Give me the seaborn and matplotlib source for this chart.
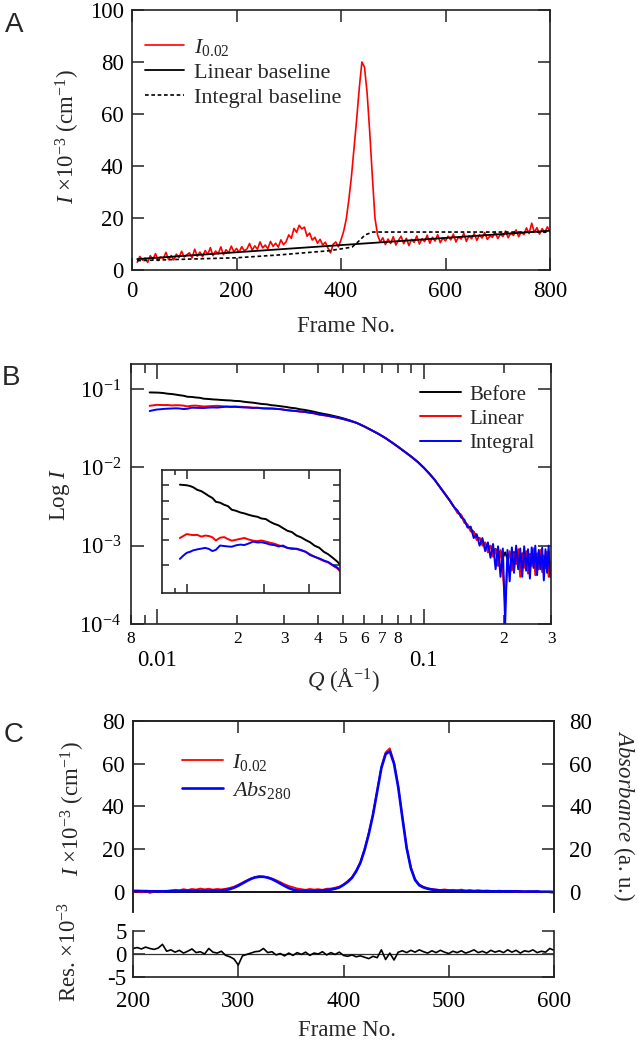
import numpy as np
import pandas as pd
import matplotlib
matplotlib.use("Agg")
import matplotlib.pyplot as plt
import matplotlib.ticker as mticker
import seaborn as sns

# ---------------- data: panel A (SEC-SAXS elution, raw) ----------------
frame_a = list(range(10, 801, 5))
i002_a = [3.0, 5.2, 3.8, 4.6, 2.9, 5.5, 4.1, 6.3, 3.6, 5.0,
          4.4, 6.8, 4.0, 5.6, 3.9, 6.1, 4.8, 7.2, 5.0, 5.9,
          6.6, 4.7, 8.0, 5.3, 6.9, 5.1, 7.5, 6.0, 8.6, 5.5,
          7.3, 6.2, 8.9, 5.9, 7.8, 6.6, 9.2, 7.0, 8.3, 6.8,
          9.0, 7.4, 8.1, 10.2, 7.6, 9.3, 8.0, 10.8, 8.5, 9.6,
          8.2, 11.0, 9.1, 10.3, 8.8, 11.6, 9.7, 10.9, 13.5, 12.2,
          16.0, 14.5, 17.2, 15.8, 16.5, 13.0, 14.2, 11.5, 12.6, 10.3,
          11.8, 9.6, 10.7, 8.4, 6.6, 9.9, 10.8, 8.9, 11.6, 14.8,
          19.5, 27.0, 36.0, 47.0, 58.0, 70.0, 80.0, 78.0, 68.0, 53.0,
          36.0, 20.0, 13.5, 10.8, 12.4, 9.8, 11.9, 10.2, 12.8, 9.6,
          11.4, 13.0, 10.1, 12.2, 9.4, 11.8, 10.6, 13.1, 10.0, 12.0,
          10.9, 13.4, 10.3, 12.6, 11.1, 13.6, 10.5, 12.3, 11.2, 13.0,
          11.6, 13.8, 10.8, 12.7, 11.9, 14.1, 11.0, 13.2, 12.0, 14.0,
          11.4, 13.5, 12.3, 14.4, 11.8, 13.1, 12.6, 14.6, 12.1, 13.7,
          12.9, 15.0, 12.4, 14.2, 13.3, 15.4, 12.8, 14.7, 13.6, 16.2,
          14.0, 18.0, 14.5, 16.3, 13.8, 15.9, 14.4, 16.6, 14.8]
lin_frames = [10, 800]
lin_vals = [4.2, 15.1]
int_frames = [10, 110, 200, 282, 377, 421, 433, 446, 461, 800]
int_vals = [3.6, 4.2, 4.7, 5.8, 7.4, 8.8, 10.9, 13.5, 14.6, 14.6]

# ---------------- data: panel B (scattering profiles) ----------------
q_b = [0.0094, 0.0097, 0.0100, 0.0103, 0.0106, 0.0110, 0.0114, 0.0118, 0.0122, 0.0126,
       0.0130, 0.0135, 0.0140, 0.0145, 0.0150, 0.0156, 0.0162, 0.0168, 0.0175, 0.0182,
       0.0189, 0.0196, 0.0204, 0.0212, 0.0220, 0.0229, 0.0238, 0.0248, 0.0258, 0.0269,
       0.0280, 0.0292, 0.0304, 0.0317, 0.0330, 0.0344, 0.0358, 0.0373, 0.0388, 0.0404,
       0.042, 0.044, 0.046, 0.048, 0.050, 0.053, 0.056, 0.060, 0.064, 0.068,
       0.072, 0.076, 0.080, 0.085, 0.090, 0.095, 0.100, 0.105, 0.110, 0.115,
       0.120, 0.125, 0.130,
       0.134, 0.138, 0.142, 0.146, 0.150, 0.154, 0.158, 0.162, 0.166, 0.170,
       0.174, 0.178, 0.182, 0.186, 0.190, 0.194, 0.198, 0.202, 0.206, 0.210,
       0.214, 0.218, 0.222, 0.226, 0.230, 0.234, 0.238, 0.242, 0.246, 0.250,
       0.254, 0.258, 0.262, 0.266, 0.270, 0.274, 0.278, 0.282, 0.286, 0.290,
       0.294, 0.298]
mid_b = [0.0482, 0.0468, 0.0452, 0.0437, 0.0421, 0.0396, 0.0370, 0.0332, 0.0296, 0.0265,
         0.0236, 0.0208, 0.0184, 0.0158, 0.0136, 0.0117, 0.0099, 0.0083, 0.0069, 0.0056,
         0.0046, 0.0038, 0.0031]
before_b = ([0.0902, 0.0900, 0.0898, 0.0893, 0.0885, 0.0868, 0.0860, 0.0845, 0.0830, 0.0818,
             0.0795, 0.0790, 0.0778, 0.0770, 0.0750, 0.0744, 0.0735, 0.0730, 0.0722, 0.0716,
             0.0712, 0.0703, 0.0700, 0.0686, 0.0676, 0.0668, 0.0655, 0.0642, 0.0636, 0.0620,
             0.0612, 0.0600, 0.0590, 0.0575, 0.0567, 0.0550, 0.0540, 0.0526, 0.0512, 0.0495]
            + mid_b +
            [0.0027, 0.00245, 0.00205, 0.00182, 0.00162, 0.00150, 0.00128, 0.00124, 0.00110, 0.00106,
             0.00095, 0.00098, 0.00086, 0.00091, 0.00076, 0.00085, 0.00070, 0.00082, 0.00068, 0.00079,
             0.00066, 0.00083, 0.00070, 0.00077, 0.00062, 0.00080, 0.00068, 0.00074, 0.00060, 0.00078,
             0.00065, 0.00072, 0.00059, 0.00076, 0.00063, 0.00070, 0.00057, 0.00073, 0.00061, 0.00068,
             0.00055, 0.00062])
linear_b = ([0.0609, 0.0618, 0.0627, 0.0624, 0.0622, 0.0623, 0.0615, 0.0620, 0.0618, 0.0612,
             0.0598, 0.0610, 0.0613, 0.0604, 0.0597, 0.0601, 0.0605, 0.0609, 0.0602, 0.0597,
             0.0595, 0.0598, 0.0593, 0.0588, 0.0584, 0.0577, 0.0572, 0.0566, 0.0565, 0.0561,
             0.0558, 0.0550, 0.0540, 0.0530, 0.0522, 0.0514, 0.0508, 0.0497, 0.0487, 0.0470]
            + [0.0462, 0.0450, 0.0438, 0.0425, 0.0412, 0.0390, 0.0368, 0.0330, 0.0295, 0.0264,
               0.0235, 0.0207, 0.0183, 0.0157, 0.0136, 0.0117, 0.0099, 0.0083, 0.0069, 0.0056,
               0.0046, 0.0038, 0.0031] +
            [0.0026, 0.00250, 0.00196, 0.00185, 0.00152, 0.00148, 0.00118, 0.00126, 0.00100, 0.00110,
             0.00082, 0.00100, 0.00072, 0.00090, 0.00055, 0.00088, 0.00045, 0.00018, 0.00062, 0.00085,
             0.00048, 0.00080, 0.00058, 0.00090, 0.00040, 0.00078, 0.00052, 0.00085, 0.00044, 0.00076,
             0.00055, 0.00092, 0.00042, 0.00080, 0.00050, 0.00088, 0.00046, 0.00075, 0.00052, 0.00084,
             0.00040, 0.00060])
integral_b = ([0.0522, 0.0535, 0.0546, 0.0550, 0.0556, 0.0560, 0.0563, 0.0566, 0.0562, 0.0553,
               0.0558, 0.0576, 0.0574, 0.0572, 0.0571, 0.0577, 0.0580, 0.0578, 0.0585, 0.0593,
               0.0589, 0.0590, 0.0586, 0.0580, 0.0578, 0.0572, 0.0576, 0.0566, 0.0562, 0.0563,
               0.0556, 0.0550, 0.0537, 0.0530, 0.0524, 0.0516, 0.0510, 0.0499, 0.0490, 0.0475]
              + [0.0466, 0.0453, 0.0440, 0.0427, 0.0413, 0.0391, 0.0369, 0.0331, 0.0295, 0.0264,
                 0.0235, 0.0207, 0.0183, 0.0157, 0.0136, 0.0117, 0.0099, 0.0083, 0.0069, 0.0056,
                 0.0046, 0.0038, 0.0031] +
              [0.0028, 0.00230, 0.00215, 0.00170, 0.00175, 0.00125, 0.00140, 0.00100, 0.00125, 0.00085,
               0.00110, 0.00070, 0.00105, 0.00050, 0.00098, 0.00040, 0.00092, 0.00010, 0.00088, 0.00035,
               0.00095, 0.00045, 0.00100, 0.00050, 0.00092, 0.00040, 0.00098, 0.00048, 0.00090, 0.00038,
               0.00095, 0.00052, 0.00100, 0.00042, 0.00088, 0.00050, 0.00094, 0.00036, 0.00090, 0.00045,
               0.00100, 0.00040])
curves_b = ["Before", "Linear", "Integral"]

# ---------------- data: panel C (corrected elution + UV) ----------------
frame_c = list(range(200, 601, 4))
i002_c = [-0.2, 0.1, -0.3, 0.2, -0.6, 0.0, 0.3, -0.1, 0.4, 0.6,
          0.9, 0.7, 1.2, 0.8, 1.3, 1.0, 1.5, 1.1, 1.4, 1.0,
          1.3, 1.1, 1.4, 1.8, 2.4, 3.3, 4.3, 5.3, 6.2, 6.9,
          7.3, 7.1, 6.8, 6.2, 5.4, 4.5, 3.5, 2.7, 2.1, 1.5,
          1.2, 0.9, 1.3, 1.0, 1.2, 0.9, 1.4, 1.5, 1.9, 2.4,
          3.4, 5.0, 6.8, 9.9, 13.8, 20.0, 27.6, 36.4, 47.5, 58.6,
          65.3, 67.2, 60.6, 49.4, 34.9, 20.8, 11.4, 5.9, 3.4, 2.3,
          1.6, 1.3, 1.0, 0.8, 1.1, 0.7, 0.9, 0.6, 1.0, 0.5,
          0.8, 0.4, 0.7, 0.3, 0.6, 0.4, 0.2, 0.5, 0.1, 0.4,
          0.3, 0.0, 0.4, -0.1, 0.2, 0.1, 0.3, -0.2, 0.0, -0.3,
          -0.5]
abs280_c = [0.4, 0.4, 0.3, 0.3, 0.2, 0.2, 0.2, 0.2, 0.2, 0.3,
            0.3, 0.3, 0.4, 0.4, 0.4, 0.5, 0.5, 0.5, 0.5, 0.5,
            0.5, 0.6, 0.8, 1.2, 1.9, 2.8, 3.9, 5.0, 6.0, 6.7,
            7.0, 7.0, 6.6, 5.9, 4.9, 3.8, 2.7, 1.7, 1.0, 0.6,
            0.4, 0.4, 0.4, 0.4, 0.5, 0.6, 0.8, 1.0, 1.4, 2.0,
            3.2, 4.6, 6.5, 9.5, 13.5, 19.5, 27.0, 36.0, 47.0, 58.0,
            64.5, 65.8, 60.0, 49.0, 34.5, 20.5, 11.0, 5.5, 3.0, 2.0,
            1.4, 1.0, 0.8, 0.6, 0.5, 0.5, 0.4, 0.4, 0.4, 0.3,
            0.3, 0.3, 0.3, 0.3, 0.2, 0.2, 0.2, 0.2, 0.2, 0.2,
            0.2, 0.2, 0.1, 0.1, 0.1, 0.1, 0.1, 0.0, 0.0, 0.0,
            -0.1]
resid_c = [1.2, 1.4, 1.1, 1.5, 1.2, 1.0, 1.3, 2.1, 0.6, 0.9,
           0.4, 0.8, 0.2, 0.6, 1.1, 0.3, 0.5, 0.0, 1.2, 0.4,
           0.2, 0.6, -0.3, -0.6, -1.1, -2.4, -0.4, -0.1, 0.2, 0.5,
           0.6, 1.2, 0.3, 0.5, -0.2, 0.1, -0.4, 0.2, -0.3, 0.3,
           -0.1, 0.4, -0.3, 0.2, 0.0, 0.5, -0.2, 0.3, -0.1, 0.4,
           -0.3, -0.5, -0.2, -0.6, -0.4, -0.7, -1.0, -0.5, -0.8, 0.9,
           -1.2, 0.2, -1.3, 0.4, 0.7, 0.3, 0.8, 0.4, 0.9, 0.5,
           0.2, 0.7, 0.3, 0.8, 0.4, 0.1, 0.6, 0.3, 0.7, 0.2,
           0.5, 0.9, 0.3, 0.6, 0.2, 0.8, 0.4, 0.7, 0.3, 0.9,
           0.4, 0.8, 0.2, 0.7, 0.5, 0.9, 0.3, 0.6, 0.4, 1.2,
           0.8]

# ---------------- style ----------------
sns.set_style("ticks")
plt.rcParams["font.family"] = ["Liberation Serif", "DejaVu Serif"]
plt.rcParams.update({
    "mathtext.fontset": "custom",
    "mathtext.rm": "Liberation Serif",
    "mathtext.it": "Liberation Serif:italic",
    "mathtext.bf": "Liberation Serif:bold",
    "axes.unicode_minus": False,
    "xtick.direction": "in", "ytick.direction": "in",
    "xtick.top": True, "ytick.right": True,
    "xtick.major.size": 8.5, "ytick.major.size": 8.5,
    "xtick.major.width": 1.1, "ytick.major.width": 1.1,
    "xtick.minor.width": 1.1, "ytick.minor.width": 1.1,
    "axes.linewidth": 1.2,
    "axes.edgecolor": "#222222",
    "xtick.color": "#222222", "ytick.color": "#222222",
    "xtick.labelcolor": "black", "ytick.labelcolor": "black",
    "xtick.labelsize": 16.5, "ytick.labelsize": 16.5,
})
W, H = 638, 1042


def box(l, t, r, b):
    return [l / W, 1 - b / H, (r - l) / W, (b - t) / H]


fig = plt.figure(figsize=(W / 100, H / 100), dpi=100)

# ================= A =================
axA = fig.add_axes(box(132, 10, 550, 270))
df_a = pd.DataFrame({"frame": frame_a, "I": i002_a})
sns.lineplot(data=df_a, x="frame", y="I", color="red", lw=1.2, ax=axA,
             label=r"$I_{0.02}$", estimator=None)
sns.lineplot(x=lin_frames, y=lin_vals, color="black", lw=1.3, ax=axA,
             label="Linear baseline", estimator=None)
sns.lineplot(x=int_frames, y=int_vals, color="black", lw=1.2, ax=axA,
             label="Integral baseline", estimator=None, linestyle=(0, (2.2, 1.6)))
axA.set_xlim(0, 800)
axA.set_ylim(0, 100)
axA.set_xticks(range(0, 801, 200))
axA.set_yticks(range(0, 101, 20))
axA.tick_params(axis="x", pad=8)
axA.tick_params(axis="y", pad=6)
axA.set_xlabel("")
axA.set_ylabel("")
axA.legend(loc="upper left", bbox_to_anchor=(145 / W, 1 - 37 / H),
           bbox_transform=fig.transFigure, frameon=False, fontsize=16,
           handlelength=1.75, handletextpad=0.45, labelspacing=0.2,
           borderpad=0, borderaxespad=0)
fig.text(346 / W, 1 - 326 / H, "Frame No.", ha="center", va="center", fontsize=16.5)
fig.text(68 / W, 1 - 137 / H, r"$I$ ×10$^{-3}$ (cm$^{-1}$)", ha="center",
         va="center", rotation=90, fontsize=16.5)
fig.text(14 / W, 1 - 25 / H, "A", ha="center", va="center", fontsize=20,
         family="Liberation Sans")

# ================= B =================
axB = fig.add_axes(box(131, 364, 551, 624))
axB.set_xscale("log")
axB.set_yscale("log")
df_b = pd.DataFrame({
    "Q": q_b * 3,
    "I": before_b + linear_b + integral_b,
    "curve": [c for c in curves_b for _ in q_b],
})
pal_b = {"Before": "black", "Linear": "red", "Integral": "blue"}
sns.lineplot(data=df_b, x="Q", y="I", hue="curve", hue_order=curves_b,
             palette=pal_b, lw=1.4, ax=axB, estimator=None, sort=False)
axB.set_xlim(0.008, 0.3)
axB.set_ylim(1e-4, 0.208)
axB.xaxis.set_major_locator(mticker.FixedLocator([0.01, 0.1]))
axB.xaxis.set_major_formatter(mticker.FixedFormatter(["0.01", "0.1"]))
minor_q = [0.008, 0.009, 0.02, 0.03, 0.04, 0.05, 0.06, 0.07, 0.08, 0.09, 0.2, 0.3]
minor_lab = ["8", "", "2", "3", "4", "5", "6", "7", "8", "", "2", "3"]
axB.xaxis.set_minor_locator(mticker.FixedLocator(minor_q))
axB.xaxis.set_minor_formatter(mticker.FixedFormatter(minor_lab))
axB.yaxis.set_major_locator(mticker.FixedLocator([1e-4, 1e-3, 1e-2, 1e-1]))
axB.yaxis.set_major_formatter(mticker.LogFormatterMathtext())
axB.yaxis.set_minor_locator(mticker.NullLocator())
axB.tick_params(axis="x", which="major", length=11, pad=19)
axB.tick_params(axis="x", which="minor", length=6.5, pad=5, labelsize=12.5)
axB.tick_params(axis="y", which="major", length=9.5, pad=7)
axB.set_xlabel("")
axB.set_ylabel("")
axB.legend(loc="upper left", bbox_to_anchor=(420 / W, 1 - 385 / H),
           bbox_transform=fig.transFigure, frameon=False, fontsize=15,
           handlelength=1.95, handletextpad=0.4, labelspacing=0.22,
           borderpad=0, borderaxespad=0, title=None)
fig.text(343 / W, 1 - 680 / H, r"$Q$ (Å$^{-1}$)", ha="center", va="center", fontsize=16.5)
fig.text(60 / W, 1 - 494 / H, r"Log $I$", ha="center", va="center",
         rotation=90, fontsize=16.5)
fig.text(11 / W, 1 - 378 / H, "B", ha="center", va="center", fontsize=20,
         family="Liberation Sans")

# inset
axI = fig.add_axes(box(162, 470, 340, 593))
axI.set_xscale("log")
axI.set_yscale("log")
sns.lineplot(data=df_b, x="Q", y="I", hue="curve", hue_order=curves_b,
             palette=pal_b, lw=1.4, ax=axI, estimator=None, sort=False, legend=False)
axI.set_xlim(0.0080, 0.0398)
axI.set_ylim(0.0406, 0.1005)
axI.xaxis.set_major_locator(mticker.FixedLocator([0.01, 0.02, 0.03]))
axI.xaxis.set_minor_locator(mticker.FixedLocator([0.009]))
axI.yaxis.set_major_locator(mticker.FixedLocator([0.05, 0.06, 0.07, 0.08, 0.09]))
axI.yaxis.set_minor_locator(mticker.NullLocator())
axI.tick_params(which="both", labelbottom=False, labelleft=False,
                labeltop=False, labelright=False)
axI.tick_params(axis="x", which="major", length=6.5)
axI.tick_params(axis="x", which="minor", length=3.5)
axI.tick_params(axis="y", which="major", length=5)
axI.set_xlabel("")
axI.set_ylabel("")

# ================= C =================
axC = fig.add_axes(box(133, 721, 554, 912))
axC.axhline(0, color="black", lw=1.3, zorder=1)
sns.lineplot(x=frame_c, y=i002_c, color="red", lw=1.3, ax=axC,
             label=r"$I_{0.02}$", estimator=None)
sns.lineplot(x=frame_c, y=abs280_c, color="blue", lw=1.9, ax=axC,
             label=r"$Abs_{280}$", estimator=None)
axC.set_xlim(200, 600)
axC.set_ylim(-9.5, 80)
axC.set_xticks([300, 400, 500])
axC.set_yticks(range(0, 81, 20))
axC.spines["bottom"].set_visible(False)
axC.tick_params(axis="x", bottom=False, top=True, labelbottom=False)
axC.tick_params(axis="y", right=False, pad=6)
axC.set_xlabel("")
axC.set_ylabel("")
axC.legend(loc="upper left", bbox_to_anchor=(182 / W, 1 - 752 / H),
           bbox_transform=fig.transFigure, frameon=False, fontsize=16,
           handlelength=1.85, handletextpad=0.4, labelspacing=0.3,
           borderpad=0, borderaxespad=0)

axC2 = axC.twinx()
axC2.set_ylim(-9.5, 80)
axC2.set_yticks(range(0, 81, 20))
axC2.spines["bottom"].set_visible(False)
axC2.tick_params(axis="y", left=False, right=True, labelright=True, pad=11)
axC2.tick_params(axis="x", bottom=False, top=False)

axR = fig.add_axes(box(133, 931, 554, 977))
axR.axhline(0, color="#333333", lw=0.9, zorder=1)
df_r = pd.DataFrame({"frame": frame_c, "res": resid_c})
sns.lineplot(data=df_r, x="frame", y="res", color="black", lw=1.2, ax=axR,
             estimator=None)
axR.set_xlim(200, 600)
axR.set_ylim(-5, 5)
axR.set_xticks(range(200, 601, 100))
axR.set_yticks([-5, 0, 5])
axR.spines["top"].set_visible(False)
axR.tick_params(axis="x", top=False, pad=10)
axR.tick_params(axis="y", pad=4.5)
axR.set_xlabel("")
axR.set_ylabel("")

fig.text(347 / W, 1 - 1031 / H, "Frame No.", ha="center", va="center", fontsize=16.5)
fig.text(73 / W, 1 - 809 / H, r"$I$ ×10$^{-3}$ (cm$^{-1}$)", ha="center",
         va="center", rotation=90, fontsize=16.5)
fig.text(70 / W, 1 - 952 / H, r"Res. ×10$^{-3}$", ha="center", va="center",
         rotation=90, fontsize=16.5)
fig.text(624 / W, 1 - 816 / H, r"$Absorbance$ (a. u.)", ha="center", va="center",
         rotation=270, fontsize=16.5)
fig.text(14 / W, 1 - 735 / H, "C", ha="center", va="center", fontsize=20,
         family="Liberation Sans")

fig.savefig("out.png", dpi=100)
